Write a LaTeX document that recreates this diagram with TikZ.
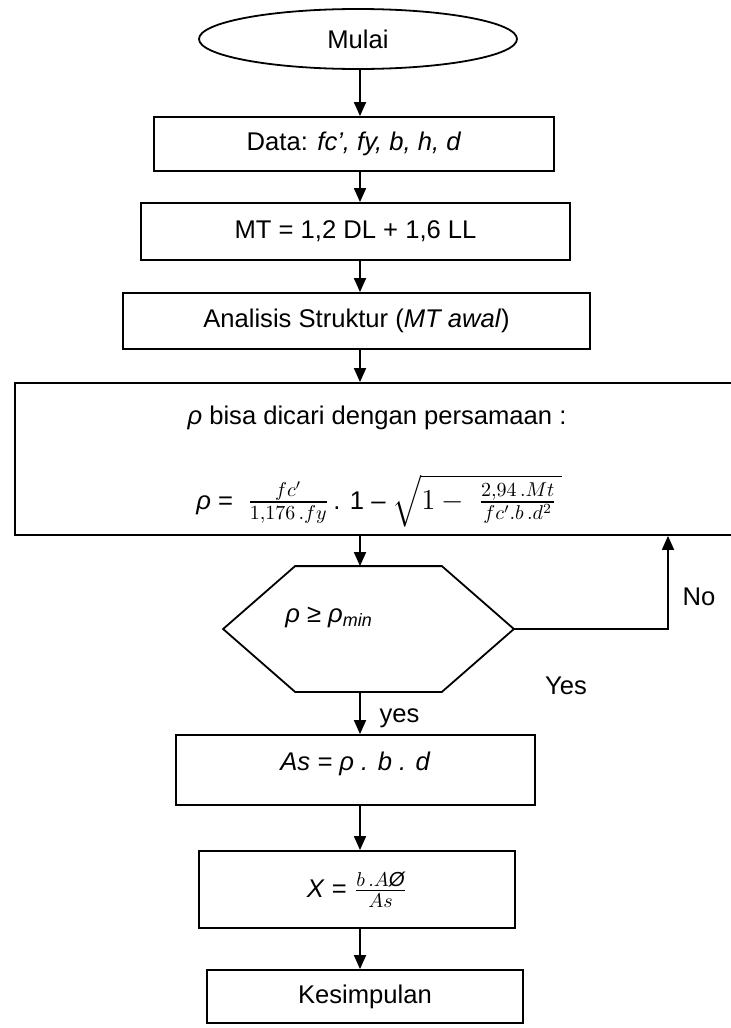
\documentclass[tikz,border=0pt]{standalone}
\usepackage{fontspec}
\usepackage{amsmath}
\setmainfont{Liberation Sans}
\usetikzlibrary{shapes.geometric,arrows.meta}
\newcommand{\rumusfont}{\fontsize{14.5}{17}\selectfont}
\begin{document}
\begin{tikzpicture}[x=0.5pt, y=-0.5pt, line width=0.9pt,
	font=\fontsize{12.8}{15}\selectfont,
	kotak/.style={draw, rectangle, inner sep=0pt},
	panah/.style={-{Triangle[length=7pt,width=6pt]}}]
	\useasboundingbox (0,0) rectangle (731,1028);
	\coordinate (kol) at (360,0);
	\node[draw, ellipse, minimum width=159pt, minimum height=30pt, inner sep=0pt] (mulai) at (358,39) {Mulai};
	\node[kotak, minimum width=200pt, minimum height=27pt] (data) at (354,144) {Data: \textit{fc’, fy, b, h, d}};
	\node[kotak, minimum width=214.5pt, minimum height=28.5pt] (mt) at (355.5,231.5) {MT = 1,2 DL + 1,6 LL};
	\node[kotak, minimum width=233.5pt, minimum height=28pt] (analisis) at (356.5,321) {Analisis Struktur (\textit{MT awal})};
	\node[kotak, minimum width=360pt, minimum height=76pt] (rho) at (375,459) {};
	\node (rhoteks) at (377,418) {\textit{ρ} bisa dicari dengan persamaan :};
	\node (rumus) at (379,501) {\textit{ρ} = \;{\rumusfont$\frac{fc'}{1{,}176\,.fy}$}\,. 1 – {\rumusfont$\sqrt{1-\;\frac{2{,}94\,.Mt}{fc'.b\,.d^2}\,}$}};
	\node[minimum width=144.5pt, minimum height=62pt, inner sep=0pt] (cek) at (368.5,629) {};
	\draw ([xshift=36pt]cek.north west) -- ([xshift=-36pt]cek.north east) -- (cek.east)
		-- ([xshift=-36pt]cek.south east) -- ([xshift=36pt]cek.south west) -- (cek.west) -- cycle;
	\node (cekteks) at (329,617) {\textit{ρ} ≥ \textit{ρ}\textsubscript{\textit{min}}};
	\node[kotak, minimum width=179.5pt, minimum height=35pt] (as) at (355.5,770) {};
	\node (asteks) at (355.5,764) {\textit{As = ρ . b . d}};
	\node[kotak, minimum width=158pt, minimum height=38.5pt] (x) at (357,889.5) {\textit{X} = {\rumusfont$\frac{b\,.A\text{\itshape Ø}}{As}$}};
	\node[kotak, minimum width=158pt, minimum height=26.5pt] (kesimpulan) at (365,996.5) {Kesimpulan};
	
	\draw[panah] (mulai.south -| kol) -- (data.north -| kol);
	\draw[panah] (data.south -| kol) -- (mt.north -| kol);
	\draw[panah] (mt.south -| kol) -- (analisis.north -| kol);
	\draw[panah] (analisis.south -| kol) -- (rho.north -| kol);
	\draw[panah] (rho.south -| kol) -- (cek.north -| kol);
	\draw[panah] (cek.south -| kol) -- (as.north -| kol) node[pos=0.62, right=6pt] (yes) {yes};
	\draw[panah] (as.south -| kol) -- (x.north -| kol);
	\draw[panah] (x.south -| kol) -- (kesimpulan.north -| kol);
	\coordinate (belok) at (668,629);
	\draw[panah] (cek.east) -- (belok) -- (belok |- rho.south);
	\node (no) at (699,597) {No};
	\node (yesluar) at (566,686) {Yes};
\end{tikzpicture}
\end{document}
